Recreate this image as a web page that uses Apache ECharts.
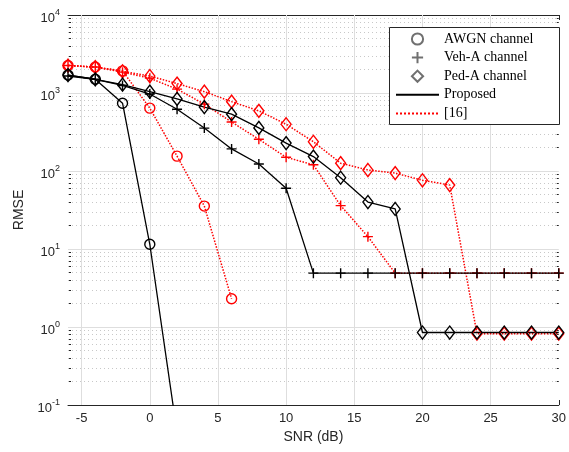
<!DOCTYPE html>
<html><head><meta charset="utf-8">
<script src="https://cdn.jsdelivr.net/npm/echarts@6/dist/echarts.min.js"></script>
<style>html,body{margin:0;padding:0;background:#fff}#c{width:569px;height:452px}</style>
</head><body><div id="c"></div>
<script>
// ---- data ----
var snrAll = [-6,-4,-2,0,2,4,6,8,10,12,14,16,18,20,22,24,26,28,30];
var awgnPropSnr = [-6,-4,-2,0,2];
var awgnProp = [1700,1500,740,11.5,0.044];
var awgnRefSnr = [-6,-4,-2,0,2,4,6];
var awgnRef = [2250,2150,1920,640,155,35.5,2.3];
var vehProp = [1650,1500,1250,970,620,355,192,123,60,4.9,4.9,4.9,4.9,4.9,4.9,4.9,4.9,4.9,4.9];
var vehRef  = [2250,2150,1850,1550,1120,720,425,255,150,120,36,14.4,4.9,4.9,4.9,4.9,4.9,4.9,4.9];
var pedProp = [1700,1500,1280,1040,840,660,535,357,228,153,82,40,32.6,0.85,0.85,0.85,0.85,0.85,0.85];
var pedRef  = [2250,2150,1900,1650,1320,1040,775,590,398,237,126,103,94,76,66,0.82,0.82,0.82,0.82];
var xTicks = [-5,0,5,10,15,20,25,30];
var yMajor = [0.1,1,10,100,1000,10000];
var yMinor = [];
[0.1,1,10,100,1000].forEach(function(d){[2,3,4,5,6,7,8,9].forEach(function(m){yMinor.push(+(d*m).toPrecision(3));});});

function pairs(xs, ys){ return xs.map(function(x,i){return [x, ys[i]];}); }

var RED = '#ff0000', BLK = '#000000', AX = '#262626';
var plusPath = 'path://M5,0L5,10M0,5L10,5';

function dataSeries(name, data, color, symbol, size, dotted){
  return {
    name: name, type: 'line', data: data, clip: true, z: 5,
    symbol: symbol, symbolSize: size, showSymbol: true,
    lineStyle: {color: color, width: dotted ? 1.5 : 1.3, type: dotted ? 'dotted' : 'solid'},
    itemStyle: {color: 'rgba(0,0,0,0)', borderColor: color, borderWidth: 1.4},
    emphasis: {disabled: true}, animation: false
  };
}
function legendMarker(name, symbol, size){
  return {name: name, type: 'line', data: [], symbol: symbol, symbolSize: size,
    lineStyle: {opacity: 0, width: 0},
    itemStyle: {color: 'rgba(0,0,0,0)', borderColor: '#707070', borderWidth: 1.5}};
}
function legendLine(name, color, dotted){
  return {name: name, type: 'line', data: [], symbol: 'none',
    lineStyle: {color: color, width: dotted ? 1.5 : 1.8, type: dotted ? 'dotted' : 'solid'},
    itemStyle: {color: 'rgba(0,0,0,0)', borderColor: 'rgba(0,0,0,0)', borderWidth: 0}};
}

var chart = echarts.init(document.getElementById('c'), null, {renderer: 'canvas'});
var labelFont = 'Liberation Sans';
var option = {
  animation: false,
  backgroundColor: '#fff',
  grid: {left: 68, right: 9, top: 15, bottom: 47},
  xAxis: [{
    type: 'value', min: -6, max: 30, position: 'bottom',
    name: 'SNR (dB)', nameLocation: 'middle', nameGap: 25,
    nameTextStyle: {fontFamily: labelFont, fontSize: 14, color: AX},
    axisLine: {lineStyle: {color: AX, width: 1}},
    axisTick: {inside: true, length: 5, customValues: xTicks, lineStyle: {color: AX}},
    axisLabel: {customValues: xTicks, margin: 7, fontFamily: labelFont, fontSize: 13, color: AX},
    splitLine: {show: false}
  },{
    type: 'value', min: -6, max: 30, position: 'top',
    axisLine: {lineStyle: {color: AX, width: 1}},
    axisTick: {inside: true, length: 5, customValues: xTicks, lineStyle: {color: AX}},
    axisLabel: {show: false}, splitLine: {show: false}
  }],
  yAxis: [{
    type: 'log', logBase: 10, min: 0.1, max: 10000, position: 'left',
    name: 'RMSE', nameLocation: 'middle', nameGap: 42,
    nameTextStyle: {fontFamily: labelFont, fontSize: 14, color: AX},
    axisLine: {lineStyle: {color: AX, width: 1}},
    axisTick: {inside: true, length: 5, lineStyle: {color: AX}},
    axisLabel: {
      margin: 8, fontFamily: labelFont, color: AX,
      formatter: function(v){ var e = Math.round(Math.log10(v)); return '{b|10}{s|' + e + '}'; },
      rich: {b: {fontSize: 13, fontFamily: labelFont, color: AX, padding: [6,0,0,0]},
             s: {fontSize: 9, fontFamily: labelFont, color: AX, padding: [0,0,4,0]}}
    },
    splitLine: {show: false}
  },{
    type: 'log', logBase: 10, min: 0.1, max: 10000, position: 'right',
    axisLine: {lineStyle: {color: AX, width: 1}},
    axisTick: {inside: true, length: 5, lineStyle: {color: AX}},
    axisLabel: {show: false}, splitLine: {show: false}
  },{
    type: 'log', logBase: 10, min: 0.1, max: 10000, position: 'left',
    axisLine: {show: false},
    axisTick: {inside: true, length: 3, customValues: yMinor, lineStyle: {color: AX}},
    axisLabel: {show: false}, splitLine: {show: false}
  },{
    type: 'log', logBase: 10, min: 0.1, max: 10000, position: 'right',
    axisLine: {show: false},
    axisTick: {inside: true, length: 3, customValues: yMinor, lineStyle: {color: AX}},
    axisLabel: {show: false}, splitLine: {show: false}
  }],
  legend: {
    orient: 'vertical', left: 391, top: 29, z: 100,
    itemWidth: 43, itemHeight: 14, itemGap: 4.6, padding: [3,4,3,4],
    textStyle: {fontFamily: 'Liberation Serif', fontSize: 14, color: '#000'},
    data: ['AWGN channel','Veh-A channel','Ped-A channel','Proposed','[16]'],
    selectedMode: false
  },
  graphic: [{
    type: 'rect', z: 50, silent: true,
    shape: {x: 389.5, y: 27.5, width: 170, height: 97},
    style: {fill: '#fff', stroke: '#262626', lineWidth: 1}
  }],
  series: [
    {
      name: 'grid', type: 'line', data: [], silent: true, z: 1,
      markLine: {
        silent: true, symbol: 'none', animation: false, label: {show: false},
        data: []
          .concat(xTicks.slice(0, -1).map(function(x){return {xAxis: x, lineStyle: {color: '#dedede', width: 1, type: 'solid'}};}))
          .concat(yMajor.slice(1, -1).map(function(y){return {yAxis: y, lineStyle: {color: '#dedede', width: 1, type: 'solid'}};}))
          .concat(yMinor.map(function(y){return {yAxis: y, lineStyle: {color: '#c8c8c8', width: 1, type: [1,3]}};}))
      }
    },
    legendMarker('AWGN channel', 'circle', 10),
    legendMarker('Veh-A channel', plusPath, 10),
    legendMarker('Ped-A channel', 'diamond', [10,13]),
    legendLine('Proposed', BLK, false),
    legendLine('[16]', RED, true),
    dataSeries('awgn-ref', pairs(awgnRefSnr, awgnRef), RED, 'circle', 10, true),
    dataSeries('veh-ref', pairs(snrAll, vehRef), RED, plusPath, 10, true),
    dataSeries('ped-ref', pairs(snrAll, pedRef), RED, 'diamond', [10,13], true),
    dataSeries('awgn-prop', pairs(awgnPropSnr, awgnProp), BLK, 'circle', 10, false),
    dataSeries('veh-prop', pairs(snrAll, vehProp), BLK, plusPath, 10, false),
    dataSeries('ped-prop', pairs(snrAll, pedProp), BLK, 'diamond', [10,13], false)
  ]
};
chart.setOption(option);
</script></body></html>
